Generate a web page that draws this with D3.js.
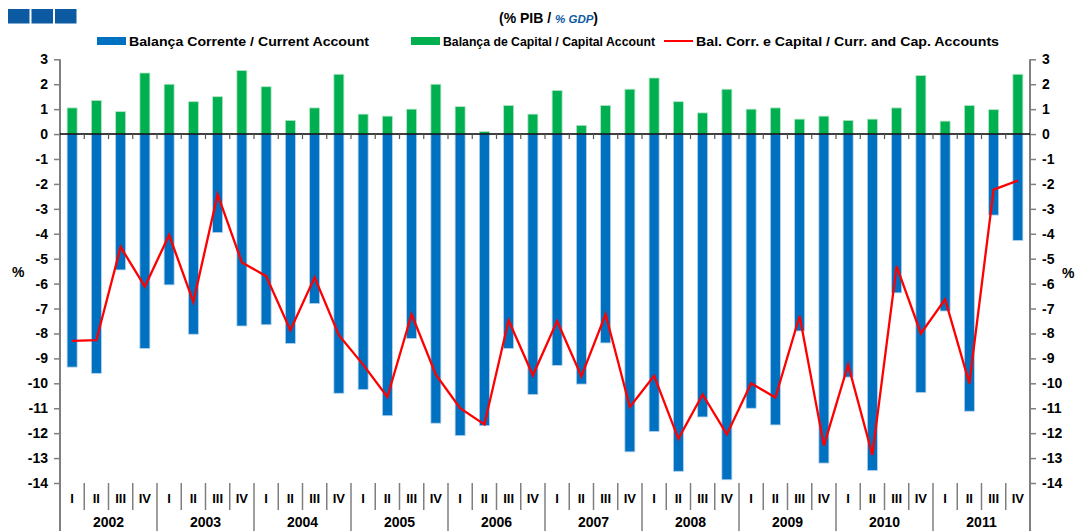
<!DOCTYPE html>
<html>
<head>
<meta charset="utf-8">
<script src="https://cdn.jsdelivr.net/npm/d3@7"></script>
<style>
  body { margin: 0; background: #fff; }
  svg { display: block; font-family: "Liberation Sans", Arial, sans-serif; font-weight: bold; }
</style>
</head>
<body>
<div id="chart"></div>
<script>
// quarters and years
var years = ["2002", "2003", "2004", "2005", "2006", "2007", "2008", "2009", "2010", "2011"];
var quarterNames = ["I", "II", "III", "IV"];

// Balança Corrente / Current Account (% GDP)
var currentAccount = [
  -9.35, -9.6, -5.45, -8.6,
  -6.05, -8.03, -3.95, -7.7,
  -7.65, -8.4, -6.8, -10.4,
  -10.25, -11.3, -8.2, -11.6,
  -12.1, -11.7, -8.6, -10.45,
  -9.28, -10.03, -8.38, -12.75,
  -11.93, -13.53, -11.35, -13.87,
  -11.0, -11.67, -7.9, -13.2,
  -9.75, -13.5, -6.37, -10.37,
  -7.1, -11.12, -3.25, -4.27
];

// Balança de Capital / Capital Account
var capitalAccount = [
  1.05, 1.35, 0.9, 2.45,
  2.0, 1.3, 1.5, 2.55,
  1.9, 0.55, 1.05, 2.4,
  0.8, 0.72, 1.0, 2.0,
  1.1, 0.1, 1.15, 0.8,
  1.75, 0.35, 1.15, 1.8,
  2.25, 1.3, 0.85, 1.8,
  1.0, 1.05, 0.6, 0.72,
  0.55, 0.6, 1.05, 2.35,
  0.52, 1.15, 0.98, 2.4
];

// Bal. Corr. e Capital / Curr. and Cap. Accounts
var combined = [
  -8.3, -8.27, -4.53, -6.12,
  -4.05, -6.73, -2.42, -5.15,
  -5.7, -7.87, -5.75, -8.07,
  -9.25, -10.55, -7.23, -9.65,
  -11.0, -11.65, -7.47, -9.68,
  -7.5, -9.72, -7.23, -10.95,
  -9.7, -12.23, -10.45, -12.05,
  -10.0, -10.57, -7.3, -12.5,
  -9.25, -12.87, -5.3, -8.0,
  -6.63, -10.0, -2.23, -1.87
];

var yTicks = d3.range(-14, 4);

var blue = "#0070c0", green = "#00b050", red = "#ff0000";

var svgWidth = 1078, svgHeight = 531;
var plot = { left: 60, right: 1030, top: 59.3, bottom: 483 };

var svg = d3.select("#chart").append("svg")
  .attr("width", svgWidth)
  .attr("height", svgHeight);

// build the quarter keys
var quarters = [];
years.forEach(function(y) {
  quarterNames.forEach(function(q) { quarters.push(y + "-" + q); });
});

var x = d3.scaleBand()
  .domain(quarters)
  .range([plot.left, plot.right])
  .padding(0);

var yScale = d3.scaleLinear()
  .domain([-14, 3])
  .range([plot.bottom, plot.top]);

var barW = 10;

// header boxes
svg.selectAll("rect.hdr")
  .data([0, 1, 2])
  .enter().append("rect")
  .attr("x", d => 8 + d * 23.5)
  .attr("y", 9)
  .attr("width", 21.5)
  .attr("height", 14.5)
  .attr("fill", "#0b5aa2");

// subtitle
var sub = svg.append("text")
  .attr("x", 499)
  .attr("y", 23)
  .attr("font-size", 14)
  .attr("fill", "#000");
sub.append("tspan").text("(% PIB / ");
sub.append("tspan").attr("fill", "#0b5aa2").attr("font-style", "italic").attr("font-size", 11.5).text("% GDP");
sub.append("tspan").text(")");

// legend
var legend = [
  { label: "Balança Corrente / Current Account", color: blue, type: "bar", x: 97, w: 240 },
  { label: "Balança de Capital / Capital Account", color: green, type: "bar", x: 411, w: 212 },
  { label: "Bal. Corr. e Capital / Curr. and Cap. Accounts", color: red, type: "line", x: 664, w: 303 }
];
var lg = svg.append("g");
legend.forEach(function(d) {
  if (d.type === "bar") {
    lg.append("rect").attr("x", d.x).attr("y", 37).attr("width", 29).attr("height", 8).attr("fill", d.color);
  } else {
    lg.append("line").attr("x1", d.x).attr("x2", d.x + 29).attr("y1", 41).attr("y2", 41)
      .attr("stroke", d.color).attr("stroke-width", 2);
  }
  lg.append("text")
    .attr("x", d.x + 32)
    .attr("y", 46)
    .attr("font-size", 13.5)
    .attr("textLength", d.w)
    .attr("lengthAdjust", "spacingAndGlyphs")
    .text(d.label);
});

// left axis
var leftAxis = d3.axisLeft(yScale).tickValues(yTicks).tickSize(6).tickPadding(6).tickFormat(d3.format("d"));
var gl = svg.append("g").attr("transform", `translate(${plot.left},0)`).call(leftAxis);
gl.select(".domain").remove();
gl.selectAll(".tick line").attr("stroke", "#7f7f7f").attr("stroke-width", 1.5);
gl.selectAll(".tick text").attr("font-size", 14).attr("font-weight", "bold").attr("fill", "#000")
  .attr("font-family", "Liberation Sans, Arial, sans-serif").text(d => d < 0 ? "-" + Math.abs(d) : d);

// right axis
var rightAxis = d3.axisRight(yScale).tickValues(yTicks).tickSize(6).tickPadding(6).tickFormat(d3.format("d"));
var gr = svg.append("g").attr("transform", `translate(${plot.right},0)`).call(rightAxis);
gr.select(".domain").remove();
gr.selectAll(".tick line").attr("stroke", "#7f7f7f").attr("stroke-width", 1.5);
gr.selectAll(".tick text").attr("font-size", 14).attr("font-weight", "bold").attr("fill", "#000")
  .attr("font-family", "Liberation Sans, Arial, sans-serif").text(d => d < 0 ? "-" + Math.abs(d) : d);

// vertical axis lines running down to the bottom
[plot.left, plot.right].forEach(function(px) {
  svg.append("line")
    .attr("x1", px).attr("x2", px)
    .attr("y1", plot.top).attr("y2", svgHeight)
    .attr("stroke", "#7f7f7f").attr("stroke-width", 2);
});

// % labels
svg.append("text").attr("x", 12).attr("y", 277).attr("font-size", 14).text("%");
svg.append("text").attr("x", 1062).attr("y", 278).attr("font-size", 14).text("%");

// green bars
svg.selectAll("rect.cap")
  .data(capitalAccount)
  .enter().append("rect")
  .attr("class", "cap")
  .attr("x", (d, i) => x(quarters[i]) + x.bandwidth() / 2 - barW / 2)
  .attr("y", d => yScale(Math.max(0, d)))
  .attr("width", barW)
  .attr("height", d => Math.abs(yScale(d) - yScale(0)))
  .attr("fill", green)
  .attr("stroke", "#b5e6c8")
  .attr("stroke-width", 0.8);

// blue bars
svg.selectAll("rect.cur")
  .data(currentAccount)
  .enter().append("rect")
  .attr("class", "cur")
  .attr("x", (d, i) => x(quarters[i]) + x.bandwidth() / 2 - barW / 2)
  .attr("y", d => yScale(Math.max(0, d)))
  .attr("width", barW)
  .attr("height", d => Math.abs(yScale(d) - yScale(0)))
  .attr("fill", blue)
  .attr("stroke", "#b3d1ec")
  .attr("stroke-width", 0.8);

// zero line with little tick marks between quarters
svg.append("line")
  .attr("x1", plot.left).attr("x2", plot.right)
  .attr("y1", yScale(0)).attr("y2", yScale(0))
  .attr("stroke", "#000").attr("stroke-width", 1.5);

svg.selectAll("line.qtick")
  .data(quarters.slice(1))
  .enter().append("line")
  .attr("x1", d => x(d)).attr("x2", d => x(d))
  .attr("y1", yScale(0)).attr("y2", yScale(0) + 5)
  .attr("stroke", "#555").attr("stroke-width", 1.2);

// red line
var line = d3.line()
  .x((d, i) => x(quarters[i]) + x.bandwidth() / 2)
  .y(d => yScale(d));

svg.append("path")
  .datum(combined)
  .attr("d", line)
  .attr("fill", "none")
  .attr("stroke", red)
  .attr("stroke-width", 2.3)
  .attr("stroke-linejoin", "miter");

// category axis at the bottom
svg.selectAll("line.qsep")
  .data(quarters.slice(1))
  .enter().append("line")
  .attr("x1", d => x(d)).attr("x2", d => x(d))
  .attr("y1", plot.bottom)
  .attr("y2", (d, i) => (i + 1) % 4 === 0 ? svgHeight : 510)
  .attr("stroke", "#7f7f7f").attr("stroke-width", 1.5);

svg.selectAll("text.qlab")
  .data(quarters)
  .enter().append("text")
  .attr("x", d => x(d) + x.bandwidth() / 2)
  .attr("y", 503)
  .attr("text-anchor", "middle")
  .attr("font-size", 13)
  .text(d => d.split("-")[1]);

svg.selectAll("text.ylab")
  .data(years)
  .enter().append("text")
  .attr("x", d => x(d + "-I") + x.bandwidth() * 2)
  .attr("y", 527)
  .attr("text-anchor", "middle")
  .attr("font-size", 14)
  .text(d => d);
</script>
</body>
</html>
